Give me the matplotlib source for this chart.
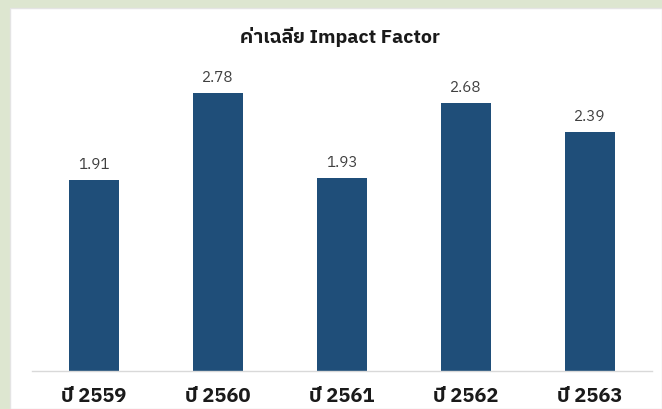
import matplotlib
matplotlib.use("Agg")
import matplotlib.pyplot as plt
from matplotlib import font_manager
from matplotlib.patches import Rectangle

categories = ["ปี 2559", "ปี 2560", "ปี 2561", "ปี 2562", "ปี 2563"]
values = [1.91, 2.78, 1.93, 2.68, 2.39]
title = "ค่าเฉลี่ย Impact Factor"


def thai_family():
    """Return the name of an installed font that covers Thai, if any."""
    try:
        from fontTools.ttLib import TTFont
    except Exception:
        return None
    needed = [ord(c) for c in "ค่าเฉลี่ยปี"]
    best = None
    for path in font_manager.findSystemFonts():
        try:
            tt = TTFont(path, fontNumber=0, lazy=True)
            cmap = tt.getBestCmap() or {}
        except Exception:
            continue
        if all(c in cmap for c in needed):
            name = font_manager.FontProperties(fname=path).get_name()
            if best is None or "Sans" in name:
                best = name
                if "Sans" in name:
                    break
    return best


thai = thai_family()
families = ([thai] if thai else []) + ["Open Sans", "DejaVu Sans"]
plt.rcParams["font.family"] = families

W, H, DPI = 662, 409, 100
fig = plt.figure(figsize=(W / DPI, H / DPI), dpi=DPI)
fig.patch.set_facecolor("#dde6d0")

# white chart panel
fig.patches.append(Rectangle((10 / W, 0), 1 - 10 / W, 1 - 8 / H,
                             transform=fig.transFigure, facecolor="white",
                             edgecolor="#e4e4e4", linewidth=1.0, zorder=-10))

ax = fig.add_axes([32 / W, 1 - 371 / H, 620 / W, 300 / H])
ax.set_facecolor("none")
x = list(range(len(categories)))
bars = ax.bar(x, values, width=0.4, color="#1f4e79", zorder=2)
ax.set_xlim(-0.5, len(categories) - 0.5)
ax.set_ylim(0, 3)

for b, v in zip(bars, values):
    ax.annotate(f"{v:.2f}", (b.get_x() + b.get_width() / 2, v),
                xytext=(0, 6), textcoords="offset points",
                ha="center", va="bottom", fontsize=11, color="#404040")

for s in ["top", "right", "left"]:
    ax.spines[s].set_visible(False)
ax.spines["bottom"].set_color("#d9d9d9")
ax.spines["bottom"].set_linewidth(1.0)
ax.set_yticks([])
ax.set_xticks(x)
ax.set_xticklabels(categories, fontsize=14.5, fontweight="bold", color="#1a1a1a")
ax.tick_params(axis="x", length=0, pad=11.5)

fig.text(340 / W, 1 - 37 / H, title, ha="center", va="center",
         fontsize=14, fontweight="bold", color="#1a1a1a")

fig.savefig("out.png", dpi=DPI, facecolor=fig.get_facecolor())
